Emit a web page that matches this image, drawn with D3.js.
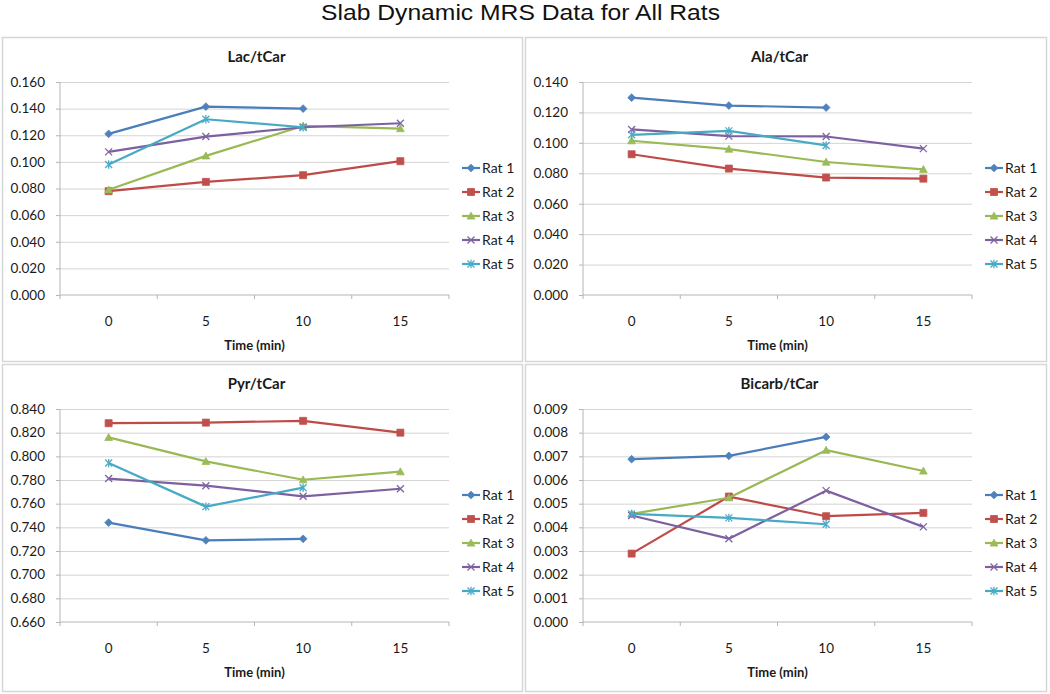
<!DOCTYPE html>
<html><head><meta charset="utf-8">
<script src="https://cdn.jsdelivr.net/npm/d3@7"></script>
<style>
html,body{margin:0;padding:0;background:#fff;}
svg{display:block;}
text{font-family:Lato,"Open Sans",sans-serif;fill:#1a1a1a;}
</style></head>
<body>
<svg id="chart" width="1050" height="694"></svg>
<script>
const mainTitle = "Slab Dynamic MRS Data for All Rats";
const times = ["0","5","10","15"];
const rats = ["Rat 1","Rat 2","Rat 3","Rat 4","Rat 5"];
const xTitle = "Time (min)";

const lacTitle = "Lac/tCar";
const lacTicks = [0,0.02,0.04,0.06,0.08,0.10,0.12,0.14,0.16];
const lacRat1 = [0.121,0.1415,0.140,null];
const lacRat2 = [0.078,0.085,0.090,0.1005];
const lacRat3 = [0.079,0.1045,0.127,0.125];
const lacRat4 = [0.1075,0.119,0.126,0.129];
const lacRat5 = [0.098,0.132,0.126,null];

const alaTitle = "Ala/tCar";
const alaTicks = [0,0.02,0.04,0.06,0.08,0.10,0.12,0.14];
const alaRat1 = [0.1297,0.1245,0.1232,null];
const alaRat2 = [0.0925,0.0831,0.0772,0.0765];
const alaRat3 = [0.1014,0.0959,0.0874,0.0826];
const alaRat4 = [0.1088,0.1044,0.1042,0.0962];
const alaRat5 = [0.1053,0.1079,0.0983,null];

const pyrTitle = "Pyr/tCar";
const pyrTicks = [0.66,0.68,0.70,0.72,0.74,0.76,0.78,0.80,0.82,0.84];
const pyrRat1 = [0.7440,0.7290,0.7303,null];
const pyrRat2 = [0.8280,0.8285,0.8300,0.8200];
const pyrRat3 = [0.8160,0.7957,0.7802,0.7870];
const pyrRat4 = [0.7812,0.7752,0.7662,0.7726];
const pyrRat5 = [0.7943,0.7575,0.7735,null];

const bicTitle = "Bicarb/tCar";
const bicTicks = [0,0.001,0.002,0.003,0.004,0.005,0.006,0.007,0.008,0.009];
const bicRat1 = [0.00688,0.00702,0.00782,null];
const bicRat2 = [0.00289,0.00530,0.00447,0.00461];
const bicRat3 = [0.00457,0.00525,0.00726,0.00638];
const bicRat4 = [0.00450,0.00352,0.00555,0.00402];
const bicRat5 = [0.00457,0.00440,0.00413,null];

const lineColors = ["#4a7ebb","#be4b48","#98b954","#7d60a0","#46aac5"];
const markColors = ["#4f81bd","#c0504d","#9bbb59","#8064a2","#4bacc6"];

const panels = [
  {title: lacTitle, ticks: lacTicks, fmt: ".3f", series: [lacRat1,lacRat2,lacRat3,lacRat4,lacRat5], x0: 2, y0: 37, w: 521, h: 325},
  {title: alaTitle, ticks: alaTicks, fmt: ".3f", series: [alaRat1,alaRat2,alaRat3,alaRat4,alaRat5], x0: 525, y0: 37, w: 522, h: 325},
  {title: pyrTitle, ticks: pyrTicks, fmt: ".3f", series: [pyrRat1,pyrRat2,pyrRat3,pyrRat4,pyrRat5], x0: 2, y0: 364, w: 521, h: 328},
  {title: bicTitle, ticks: bicTicks, fmt: ".3f", series: [bicRat1,bicRat2,bicRat3,bicRat4,bicRat5], x0: 525, y0: 364, w: 522, h: 328}
];

// custom marker shapes
const diamond = {draw(c, s){ const r = Math.sqrt(s)/2; c.moveTo(0,-r); c.lineTo(r,0); c.lineTo(0,r); c.lineTo(-r,0); c.closePath(); }};
const square = {draw(c, s){ const r = Math.sqrt(s)/2; c.rect(-r,-r,2*r,2*r); }};
const triangle = {draw(c, s){ const r = Math.sqrt(s)/2; c.moveTo(0,-r); c.lineTo(r,r*0.8); c.lineTo(-r,r*0.8); c.closePath(); }};
const cross = {draw(c, s){ const r = Math.sqrt(s)/2; c.moveTo(-r,-r); c.lineTo(r,r); c.moveTo(r,-r); c.lineTo(-r,r); }};
const star = {draw(c, s){ const r = Math.sqrt(s)/2; c.moveTo(-r,-r); c.lineTo(r,r); c.moveTo(r,-r); c.lineTo(-r,r); c.moveTo(0,-r*1.2); c.lineTo(0,r*1.2); }};
const markers = [
  {type: diamond, size: 60, filled: true},
  {type: square, size: 49, filled: true},
  {type: triangle, size: 60, filled: true},
  {type: cross, size: 49, filled: false},
  {type: star, size: 49, filled: false}
];

const svg = d3.select("#chart");

svg.append("text")
  .attr("x", 321).attr("y", 20)
  .attr("textLength", 399).attr("lengthAdjust", "spacingAndGlyphs")
  .style("font-family", "'Liberation Sans', Arial, sans-serif")
  .style("font-size", "22px")
  .style("fill", "#111")
  .text(mainTitle);

panels.forEach(p => {
  const g = svg.append("g").attr("transform", `translate(${p.x0},${p.y0})`);
  g.append("rect").attr("x", 0.5).attr("y", 0.5).attr("width", p.w - 1).attr("height", p.h - 1)
    .attr("fill", "#fff").attr("stroke", "#d6d6d6").attr("stroke-width", 1.5);

  const left = 58, right = 447, top = 45, bottom = 258;
  const x = d3.scaleBand().domain(times).range([left, right]);
  const y = d3.scaleLinear().domain([p.ticks[0], p.ticks[p.ticks.length - 1]]).range([bottom, top]);
  const cx = t => x(t) + x.bandwidth() / 2;

  // title
  g.append("text").attr("x", (left + right) / 2 + 2).attr("y", 25)
    .attr("text-anchor", "middle").style("font-size", "15px").style("font-weight", "bold")
    .text(p.title);

  // gridlines
  const grid = g.append("g").attr("transform", `translate(${left},0)`)
    .call(d3.axisLeft(y).tickValues(p.ticks.slice(1)).tickSize(-(right - left)).tickFormat(""));
  grid.select(".domain").remove();
  grid.selectAll("line").attr("stroke", "#d4d4d4").attr("stroke-width", 1);

  // y axis
  const ya = g.append("g").attr("transform", `translate(${left},0)`)
    .call(d3.axisLeft(y).tickValues(p.ticks).tickSize(4).tickPadding(11).tickFormat(d3.format(p.fmt)));
  ya.select(".domain").attr("stroke", "#b5b5b5").attr("d", `M0,${top}V${bottom}`);
  ya.selectAll("line").attr("stroke", "#b5b5b5");
  ya.selectAll("text").style("font-size", "13.5px").style("font-family", "Lato, sans-serif").attr("fill", "#1a1a1a");

  // x axis
  const xa = g.append("g").attr("transform", `translate(0,${bottom})`)
    .call(d3.axisBottom(x).tickSize(0).tickPadding(21));
  xa.select(".domain").attr("stroke", "#b5b5b5").attr("d", `M${left},0H${right}`);
  xa.selectAll("text").style("font-size", "13.5px").style("font-family", "Lato, sans-serif").attr("fill", "#1a1a1a");
  const bounds = times.map(t => x(t)).concat([x.range()[1]]);
  xa.selectAll("line.bound").data(bounds).join("line").attr("class", "bound")
    .attr("x1", d => d).attr("x2", d => d).attr("y1", 0).attr("y2", 4)
    .attr("stroke", "#b5b5b5");

  g.append("text").attr("x", (left + right) / 2).attr("y", bottom + 55)
    .attr("text-anchor", "middle").style("font-size", "13px").style("font-weight", "bold")
    .text(xTitle);

  // series
  const line = d3.line().defined(d => d.v != null).x(d => cx(d.t)).y(d => y(d.v));
  p.series.forEach((vals, i) => {
    const data = times.map((t, k) => ({t, v: vals[k]}));
    g.append("path").datum(data).attr("d", line)
      .attr("fill", "none").attr("stroke", lineColors[i]).attr("stroke-width", 2.2)
      .attr("stroke-linejoin", "round");
    const m = markers[i];
    g.selectAll(null).data(data.filter(d => d.v != null)).join("path")
      .attr("transform", d => `translate(${cx(d.t)},${y(d.v)})`)
      .attr("d", d3.symbol().type(m.type).size(m.size))
      .attr("fill", m.filled ? markColors[i] : "none")
      .attr("stroke", markColors[i]).attr("stroke-width", m.filled ? 0.8 : 1.3);
  });

  // legend
  const lg = g.append("g").attr("transform", `translate(460,131)`);
  rats.forEach((r, i) => {
    const row = lg.append("g").attr("transform", `translate(0,${i * 24})`);
    row.append("line").attr("x1", 0).attr("x2", 18).attr("y1", 0).attr("y2", 0)
      .attr("stroke", lineColors[i]).attr("stroke-width", 2.2);
    const m = markers[i];
    row.append("path").attr("transform", "translate(9,0)")
      .attr("d", d3.symbol().type(m.type).size(m.size))
      .attr("fill", m.filled ? markColors[i] : "none")
      .attr("stroke", markColors[i]).attr("stroke-width", m.filled ? 0.8 : 1.3);
    row.append("text").attr("x", 20).attr("y", 0).attr("dy", "0.35em")
      .style("font-size", "14px").text(r);
  });
});
</script>
</body></html>
